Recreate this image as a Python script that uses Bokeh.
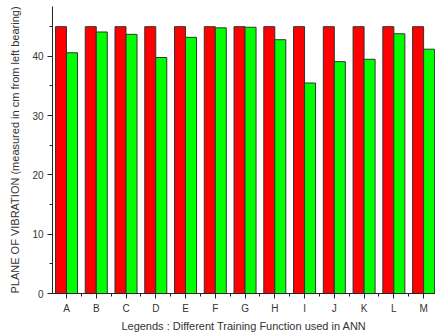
from bokeh.plotting import figure
from bokeh.models import FixedTicker, Range1d, ColumnDataSource
from bokeh.embed import file_html
from bokeh.resources import INLINE

categories = ["A", "B", "C", "D", "E", "F", "G", "H", "I", "J", "K", "L", "M"]
red_values = [45, 45, 45, 45, 45, 45, 45, 45, 45, 45, 45, 45, 45]
green_values = [40.6, 44.1, 43.7, 39.8, 43.2, 44.8, 44.9, 42.8, 35.5, 39.1, 39.5, 43.8, 41.2]
y_ticks = [0, 10, 20, 30, 40]
y_minor = [5, 15, 25, 35, 45]

positions = list(range(1, len(categories) + 1))
bar_w = 0.37
src = ColumnDataSource(dict(
    xr=[p - bar_w / 2 for p in positions],
    xg=[p + bar_w / 2 for p in positions],
    red=red_values,
    green=green_values,
))

p = figure(width=435, height=335, output_backend="svg", toolbar_location=None,
           x_range=Range1d(0.53, 13.40), y_range=Range1d(0, 48.4),
           min_border_left=52, min_border_right=0, min_border_top=6, min_border_bottom=42)

p.vbar(x="xr", top="red", width=bar_w, bottom=0, source=src,
       fill_color="#ff0000", line_color="#333333", line_width=1)
p.vbar(x="xg", top="green", width=bar_w, bottom=0, source=src,
       fill_color="#00ff00", line_color="#333333", line_width=1)

p.xgrid.visible = False
p.ygrid.visible = False
p.outline_line_color = None
p.background_fill_color = "white"

xa = p.xaxis[0]
xa.ticker = FixedTicker(ticks=positions, minor_ticks=[q + 0.5 for q in range(0, 14)])
xa.major_label_overrides = {pos: c for pos, c in zip(positions, categories)}
xa.axis_label = "Legends : Different Training Function used in ANN"

ya = p.yaxis[0]
ya.ticker = FixedTicker(ticks=y_ticks, minor_ticks=y_minor)
ya.axis_label = "PLANE OF VIBRATION (measured in cm from left bearing)"

for ax in (xa, ya):
    ax.axis_line_color = "#222222"
    ax.major_tick_line_color = "#222222"
    ax.minor_tick_line_color = "#222222"
    ax.major_tick_out = 5
    ax.major_tick_in = 0
    ax.minor_tick_out = 3
    ax.minor_tick_in = 0
    ax.major_label_text_font = "Liberation Sans"
    ax.major_label_text_font_size = "10px"
    ax.major_label_text_color = "#333333"
    ax.axis_label_text_font = "Liberation Sans"
    ax.axis_label_text_font_size = "11px"
    ax.axis_label_text_font_style = "normal"
    ax.axis_label_text_color = "#333333"
    ax.major_label_standoff = 4

xa.axis_label_standoff = 3
ya.axis_label_standoff = 8

open("out.html", "w").write(file_html(p, INLINE))
